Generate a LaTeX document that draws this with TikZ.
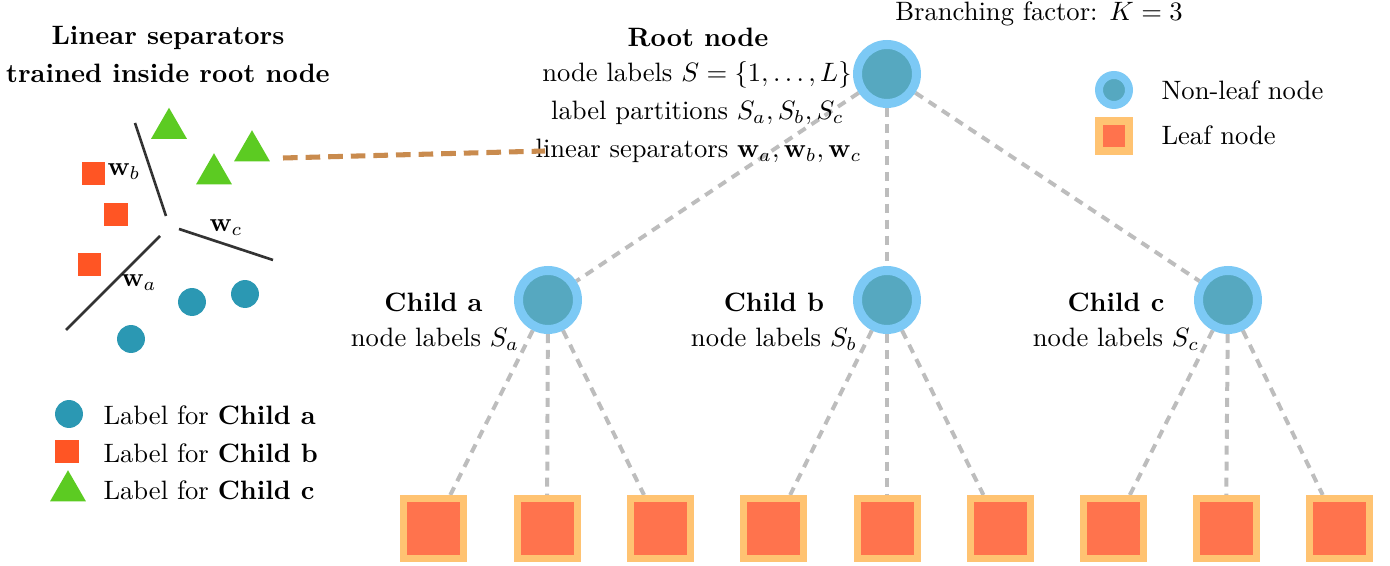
\documentclass[tikz,border=0pt]{standalone}
\usetikzlibrary{shapes.geometric,backgrounds}
\definecolor{nlout}{HTML}{7CC9F5}
\definecolor{nlin}{HTML}{56A8C0}
\definecolor{lfout}{HTML}{FFC372}
\definecolor{lfin}{HTML}{FF734D}
\definecolor{ptA}{HTML}{2B98B3}
\definecolor{ptB}{HTML}{FF5524}
\definecolor{ptC}{HTML}{5CCB22}
\definecolor{dashgrey}{HTML}{BDBDBD}
\definecolor{linkorange}{HTML}{C98B4E}
\begin{document}
\begin{tikzpicture}[x=0.376pt,y=-0.376pt,
  nonleaf/.style={circle,draw=nlout,fill=nlin,line width=3.38pt,minimum size=22.18pt,inner sep=0pt,outer sep=1.69pt},
  leafbox/.style={rectangle,draw=lfout,fill=lfin,line width=2.63pt,minimum size=22.56pt,inner sep=0pt,outer sep=1.32pt},
  treelink/.style={draw=dashgrey,line width=1.5pt,dash pattern=on 3.4pt off 2.6pt},
  orangelink/.style={draw=linkorange,line width=1.9pt,dash pattern=on 5.5pt off 3pt},
  txt/.style={anchor=base,inner sep=0pt},
  ltxt/.style={anchor=base west,inner sep=0pt},
  ptcirc/.style={circle,fill=ptA,minimum size=10.5pt,inner sep=0pt},
  ptsq/.style={rectangle,fill=ptB,minimum size=8.65pt,inner sep=0pt},
  pttri/.style={regular polygon,regular polygon sides=3,fill=ptC,minimum size=15.6pt,inner sep=0pt},
  sepline/.style={draw=black!80,line width=1pt},
  wlab/.style={inner sep=0pt}]
\useasboundingbox (0,0) rectangle (1390,566);

% ---- left panel ----
\node[txt] (title1) at (168,45) {\textbf{Linear separators}};
\node[txt] (title2) at (168,83) {\textbf{trained inside root node}};

\node[pttri] (t1) at (169,128.5) {};
\node[pttri] (t2) at (252,151) {};
\node[pttri] (t3) at (214,174) {};
\node[ptsq] (s1) at (93.5,173.5) {};
\node[ptsq] (s2) at (116,215) {};
\node[ptsq] (s3) at (89.5,264.5) {};
\node[ptcirc] (c1) at (192,302) {};
\node[ptcirc] (c2) at (245,294) {};
\node[ptcirc] (c3) at (131,339) {};

\coordinate (wb1) at (135,123);
\coordinate (wb2) at (166,216);
\coordinate (wa1) at (160,236);
\coordinate (wa2) at (66,330);
\coordinate (wc1) at (179,229);
\coordinate (wc2) at (273,260);
\draw[sepline] (wb1) -- (wb2);
\draw[sepline] (wa1) -- (wa2);
\draw[sepline] (wc1) -- (wc2);
\node[wlab] (lwb) at (124,172) {$\mathbf{w}_b$};
\node[wlab] (lwc) at (226,228) {$\mathbf{w}_c$};
\node[wlab] (lwa) at (139,283) {$\mathbf{w}_a$};

% left legend
\node[ptcirc] (lgA) at (69,414) {};
\node[ptsq] (lgB) at (67,452) {};
\node[pttri] (lgC) at (68,491) {};
\node[ltxt] (lgAt) at (103,425) {Label for \textbf{Child a}};
\node[ltxt] (lgBt) at (103,463) {Label for \textbf{Child b}};
\node[ltxt] (lgCt) at (103,500) {Label for \textbf{Child c}};

% ---- tree ----
\node[nonleaf] (root) at (887,74) {};
\node[nonleaf] (ca) at (548,300) {};
\node[nonleaf] (cb) at (887,300) {};
\node[nonleaf] (cc) at (1228,300) {};

\foreach \i/\x in {1/433.5,2/547,3/660.5,4/773.5,5/887,6/1000,7/1113,8/1226,9/1339}
  \node[leafbox] (leaf\i) at (\x,528.5) {};

\begin{pgfonlayer}{background}
  \draw[treelink] (root) -- (ca);
  \draw[treelink] (root) -- (cb);
  \draw[treelink] (root) -- (cc);
  \draw[treelink] (ca) -- (leaf1);
  \draw[treelink] (ca) -- (leaf2);
  \draw[treelink] (ca) -- (leaf3);
  \draw[treelink] (cb) -- (leaf4);
  \draw[treelink] (cb) -- (leaf5);
  \draw[treelink] (cb) -- (leaf6);
  \draw[treelink] (cc) -- (leaf7);
  \draw[treelink] (cc) -- (leaf8);
  \draw[treelink] (cc) -- (leaf9);
\end{pgfonlayer}

% texts
\node[txt] (bf) at (1039,21) {Branching factor: $K=3$};
\node[txt] (rt0) at (698,47) {\textbf{Root node}};
\node[txt] (rt1) at (697,82) {node labels $S=\{1,\ldots,L\}$};
\node[txt] (rt2) at (697.5,120) {label partitions $S_a,S_b,S_c$};
\node[txt] (rt3) at (698.5,158) {linear separators $\mathbf{w}_a,\mathbf{w}_b,\mathbf{w}_c$};

\node[txt] (cat) at (433.5,312) {\textbf{Child a}};
\node[txt] (cal) at (435,347) {node labels $S_a$};
\node[txt] (cbt) at (774,312) {\textbf{Child b}};
\node[txt] (cbl) at (774,347) {node labels $S_b$};
\node[txt] (cct) at (1116,312) {\textbf{Child c}};
\node[txt] (ccl) at (1116,347) {node labels $S_c$};

% orange link
\coordinate (ol1) at (283,158);
\coordinate (ol2) at (545,151);
\draw[orangelink] (ol1) -- (ol2);

% right legend
\node[circle,draw=nlout,fill=nlin,line width=3pt,minimum size=11.28pt,inner sep=0pt] (lgnl) at (1114,90) {};
\node[rectangle,draw=lfout,fill=lfin,line width=3pt,minimum size=11.28pt,inner sep=0pt] (lglf) at (1114,136) {};
\node[ltxt] (lgnlt) at (1161,100) {Non-leaf node};
\node[ltxt] (lglft) at (1161,145) {Leaf node};
\end{tikzpicture}
\end{document}
